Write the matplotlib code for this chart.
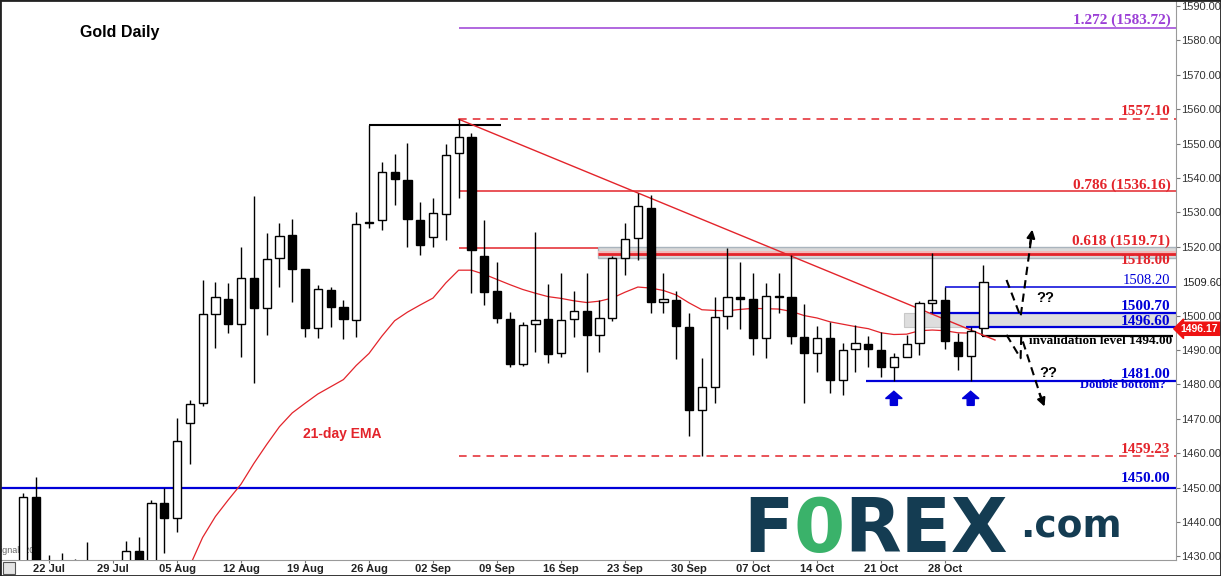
import matplotlib
matplotlib.use("Agg")
from matplotlib import pyplot as plt
from matplotlib.patches import Rectangle, FancyArrow
import matplotlib.transforms as mtransforms

# daily candles, 18 Jul .. 31 Oct (trading days only)
opens = [1426.0, 1447.4, 1425.5, 1424.0, 1417.0, 1426.0, 1414.0, 1418.5, 1426.5, 1431.5,
         1413.5, 1445.4, 1441.1, 1468.9, 1474.7, 1500.4, 1504.8, 1497.6, 1510.8, 1502.1,
         1516.8, 1523.3, 1513.4, 1496.3, 1507.4, 1502.4, 1498.7, 1527.3, 1527.7, 1541.8,
         1539.4, 1527.8, 1522.9, 1529.4, 1547.2, 1551.8, 1517.3, 1507.2, 1498.9, 1486.0,
         1497.6, 1498.9, 1489.0, 1498.9, 1501.4, 1494.3, 1499.2, 1516.6, 1522.7, 1531.4,
         1504.0, 1504.5, 1496.8, 1472.6, 1479.1, 1499.9, 1505.4, 1504.7, 1493.6, 1505.7,
         1505.3, 1493.9, 1489.0, 1493.4, 1481.3, 1490.4, 1491.7, 1490.0, 1485.1, 1488.1,
         1491.9, 1503.8, 1504.5, 1492.2, 1488.3, 1496.3]
highs = [1448.3, 1453.2, 1430.4, 1431.0, 1429.3, 1434.3, 1427.5, 1428.0, 1434.6, 1435.7,
         1446.4, 1449.8, 1470.1, 1475.5, 1510.3, 1509.9, 1509.6, 1520.0, 1534.9, 1524.1,
         1527.0, 1528.1, 1513.6, 1508.9, 1508.4, 1504.5, 1530.2, 1555.3, 1544.6, 1546.9,
         1550.3, 1533.1, 1534.1, 1549.8, 1557.1, 1553.0, 1527.8, 1515.7, 1501.1, 1498.2,
         1524.4, 1509.2, 1512.3, 1507.2, 1512.3, 1504.5, 1517.2, 1527.0, 1535.7, 1535.1,
         1512.5, 1507.2, 1500.7, 1487.6, 1505.3, 1519.7, 1515.7, 1512.5, 1509.6, 1512.3,
         1517.6, 1503.4, 1497.0, 1498.2, 1491.9, 1497.3, 1494.1, 1495.3, 1489.0, 1494.4,
         1504.3, 1518.1, 1508.4, 1495.0, 1496.8, 1514.7]
lows = [1422.0, 1421.0, 1418.5, 1412.0, 1413.5, 1411.0, 1410.0, 1414.5, 1422.5, 1411.5,
        1400.5, 1430.9, 1437.2, 1457.0, 1473.8, 1490.5, 1495.0, 1487.9, 1480.3, 1494.4,
        1508.2, 1504.0, 1493.7, 1493.4, 1496.8, 1493.1, 1493.8, 1525.5, 1525.0, 1532.2,
        1520.0, 1517.6, 1520.0, 1522.0, 1534.1, 1506.7, 1503.1, 1497.9, 1485.1, 1485.3,
        1489.5, 1486.1, 1488.0, 1493.9, 1483.7, 1489.5, 1498.3, 1511.8, 1516.2, 1500.7,
        1500.7, 1487.3, 1465.1, 1459.3, 1474.7, 1496.0, 1496.0, 1488.5, 1487.6, 1500.7,
        1491.7, 1474.5, 1483.5, 1477.6, 1477.0, 1483.7, 1485.1, 1482.2, 1481.0, 1488.0,
        1488.5, 1500.8, 1490.3, 1484.2, 1481.0, 1496.3]
closes = [1447.4, 1425.5, 1424.0, 1417.0, 1426.0, 1414.0, 1418.5, 1426.5, 1431.7, 1413.5,
          1445.4, 1441.1, 1463.4, 1474.3, 1500.4, 1505.5, 1497.6, 1510.8, 1502.1, 1516.5,
          1523.0, 1513.4, 1496.3, 1507.7, 1502.6, 1499.1, 1526.6, 1526.9, 1541.8, 1539.7,
          1528.1, 1520.5, 1529.7, 1546.7, 1551.8, 1519.1, 1507.0, 1499.4, 1486.0, 1497.2,
          1498.7, 1488.8, 1498.7, 1501.4, 1494.4, 1499.2, 1516.8, 1522.2, 1532.0, 1504.0,
          1504.8, 1497.0, 1472.6, 1479.1, 1499.7, 1505.5, 1504.9, 1493.6, 1505.7, 1505.3,
          1494.1, 1489.0, 1493.6, 1481.3, 1490.1, 1491.9, 1490.4, 1485.1, 1487.9, 1491.7,
          1503.8, 1504.5, 1492.6, 1488.3, 1495.6, 1509.9]

# 21-day EMA, from day index 12 onwards
ema_start = 12
ema = [1420.0, 1427.2, 1435.5, 1441.6, 1446.4, 1451.0, 1457.0, 1462.5, 1467.7, 1471.7,
       1474.5, 1477.2, 1479.3, 1481.4, 1485.5, 1489.0, 1494.0, 1498.5, 1501.0, 1503.1,
       1505.1, 1509.5, 1513.2, 1513.2, 1512.0, 1510.5, 1509.0, 1507.6, 1506.5, 1505.5,
       1505.0, 1504.3, 1503.8, 1504.2, 1505.1, 1506.8, 1508.3, 1508.0, 1507.3, 1506.0,
       1503.7, 1501.7, 1501.5, 1501.4, 1501.8, 1502.1, 1502.0, 1501.9, 1501.2, 1500.0,
       1499.3, 1498.2, 1497.5, 1496.8, 1496.2, 1495.0, 1494.5, 1494.6, 1495.6, 1495.8,
       1495.6, 1495.0, 1494.9]

date_idx = [2, 7, 12, 17, 22, 27, 32, 37, 42, 47, 52, 57, 62, 67, 72]
date_lbl = ["22 Jul", "29 Jul", "05 Aug", "12 Aug", "19 Aug", "26 Aug", "02 Sep", "09 Sep",
            "16 Sep", "23 Sep", "30 Sep", "07 Oct", "14 Oct", "21 Oct", "28 Oct"]
price_ticks = [1430, 1440, 1450, 1460, 1470, 1480, 1490, 1500, 1520,
               1530, 1540, 1550, 1560, 1570, 1580, 1590]
axis_marker = 1509.60

fib_1272 = 1583.72
high_lvl = 1557.10
fib_786 = 1536.16
fib_618 = 1519.71
res_1518 = 1518.00
lvl_1508 = 1508.20
lvl_1500 = 1500.70
lvl_1496 = 1496.60
invalid_lvl = 1494.00
lvl_1481 = 1481.00
low_lvl = 1459.23
lvl_1450 = 1450.00
last_price = 1496.17

RED = "#e3242b"
BLUE = "#0000d8"
PURPLE = "#9b3fd6"
W, H = 1221, 576

fig = plt.figure(figsize=(W / 100, H / 100), dpi=100)
ax = fig.add_axes([1 / W, 16 / H, 1175 / W, 559 / H])
ax.set_xlim(-1.75, 90.04)
ax.set_ylim(1428.95, 1591.45)
xr = ax.get_xlim()[1]

# zones
ax.add_patch(Rectangle((44.85, 1516.6), xr - 44.85, 1520.0 - 1516.6, fc="#d9d9d9", ec="#a9b4bd", lw=1, zorder=1))
ax.add_patch(Rectangle((44.85, 1517.3), xr - 44.85, 1.4, fc="#f3b9b9", ec="none", zorder=1.5))
ax.add_patch(Rectangle((68.8, lvl_1496), xr - 68.8, lvl_1500 - lvl_1496, fc="#dedede", ec="#c8c8c8", lw=0.8, zorder=1))

# horizontal levels
ax.hlines(fib_1272, 34, xr, color=PURPLE, lw=1.1, zorder=2)
ax.hlines(high_lvl, 34, xr, color=RED, lw=1.1, linestyles=(0, (5, 4)), zorder=2)
ax.hlines(fib_786, 34, xr, color=RED, lw=1.1, zorder=2)
ax.hlines(fib_618, 34, 44.85, color=RED, lw=1.1, zorder=2)
ax.hlines(res_1518, 44.85, xr, color=RED, lw=2, zorder=2)
ax.hlines(low_lvl, 34, xr, color=RED, lw=1.1, linestyles=(0, (5, 4)), zorder=2)
ax.hlines(lvl_1450, -2, xr, color=BLUE, lw=1.6, zorder=2)
ax.hlines(lvl_1508, 72, xr, color=BLUE, lw=1.1, zorder=2)
ax.hlines(lvl_1500, 70.8, xr, color=BLUE, lw=1.6, zorder=2)
ax.hlines(lvl_1496, 73.6, xr, color=BLUE, lw=1.6, zorder=2)
ax.hlines(lvl_1481, 65.8, xr, color=BLUE, lw=1.6, zorder=2)
ax.hlines(invalid_lvl, 74.9, 89.8, color="black", lw=1.6, zorder=2)
ax.vlines(74.9, invalid_lvl, lvl_1496, color="black", lw=1.2, zorder=2)
ax.hlines(1555.3, 27, 37.3, color="black", lw=1.5, zorder=2)

# trendline and EMA
ax.plot([34, 75.9], [high_lvl, 1492.9], color=RED, lw=1, zorder=2)
ax.plot(range(ema_start, ema_start + len(ema)), ema, color=RED, lw=0.9, zorder=2)

# candles
for i in range(len(opens)):
    o, h, l, c = opens[i], highs[i], lows[i], closes[i]
    ax.vlines(i, l, h, color="black", lw=1, zorder=4)
    body = max(abs(c - o), 0.4)
    ax.add_patch(Rectangle((i - 0.32, min(o, c)), 0.64, body,
                           fc="white" if c >= o else "black", ec="black", lw=1, zorder=5))

# scenario arrows
ax.plot([76.8, 77.9, 78.75], [1510.35, 1499.7, 1523.0], color="black", lw=1.5, ls=(0, (4, 2.5)), zorder=6)
ax.annotate("", xy=(78.85, 1525.8), xytext=(78.6, 1520.0),
            arrowprops=dict(arrowstyle="-|>", color="black", lw=1.5, mutation_scale=12), zorder=6)
ax.plot([76.8, 77.9, 77.95, 79.6], [1494.4, 1487.6, 1493.9, 1475.0], color="black", lw=1.5, ls=(0, (4, 2.5)), zorder=6)
ax.annotate("", xy=(79.85, 1472.8), xytext=(79.3, 1478.0),
            arrowprops=dict(arrowstyle="-|>", color="black", lw=1.5, mutation_scale=12), zorder=6)
ax.text(79.8, 1505.0, "??", ha="center", va="center", fontsize=10.5, fontweight="bold", family="Liberation Sans")
ax.text(80.05, 1483.4, "??", ha="center", va="center", fontsize=10.5, fontweight="bold", family="Liberation Sans")

# double-bottom markers
for xi in [68, 74]:
    ax.add_patch(FancyArrow(xi, 1473.9, 0, 4.1, width=0.55, head_width=1.3, head_length=2.1,
                            length_includes_head=True, fc=BLUE, ec=BLUE, zorder=6))

# level labels
serif = "Liberation Serif"
xl = 89.6
lbls = [
    ("1.272 (1583.72)", 1585.9, PURPLE, "bold", 11),
    ("1557.10", 1559.2, RED, "bold", 11),
    ("0.786 (1536.16)", 1538.0, RED, "bold", 11),
    ("0.618 (1519.71)", 1521.6, RED, "bold", 11),
    ("1518.00", 1515.9, RED, "bold", 11),
    ("1508.20", 1510.2, BLUE, "normal", 10.5),
    ("1500.70", 1502.6, BLUE, "bold", 11),
    ("1496.60", 1498.4, BLUE, "bold", 11),
    ("1481.00", 1483.0, BLUE, "bold", 11),
    ("1459.23", 1461.0, RED, "bold", 11),
    ("1450.00", 1452.6, BLUE, "bold", 11),
]
for s, y, col, wt, fs in lbls:
    ax.text(xl, y, s, ha="right", va="center", color=col, fontweight=wt, fontsize=fs, family=serif, zorder=7)
ax.text(89.75, 1492.7, "invalidation level 1494.00", ha="right", va="center", fontsize=9.5,
        fontweight="bold", family=serif, zorder=7)
ax.text(89.2, 1479.8, "Double bottom?", ha="right", va="center", color=BLUE, fontsize=9,
        fontweight="bold", family=serif, zorder=7)

ax.text(24.9, 1465.6, "21-day EMA", ha="center", va="center", color=RED, fontsize=10,
        fontweight="bold", family="Liberation Sans")
fig.text(80 / W, 1 - 33 / H, "Gold Daily", ha="left", va="center", fontsize=11.5,
         fontweight="bold", family="Liberation Sans")
ax.text(-0.006, 1431.8, "Signal  20", transform=mtransforms.blended_transform_factory(ax.transAxes, ax.transData),
        fontsize=6.5, color="#666666", va="center", ha="left", clip_on=True, family="Liberation Sans")

# axes styling
for sp in ["top", "left"]:
    ax.spines[sp].set_visible(False)
ax.spines["right"].set_color("#9a9a9a")
ax.spines["bottom"].set_color("#9a9a9a")
ax.yaxis.tick_right()
ax.set_yticks(price_ticks)
ax.set_yticklabels(["%.2f" % p for p in price_ticks])
ax.tick_params(axis="y", length=3, width=0.8, color="#777777", pad=1, labelsize=8, labelcolor="#333333")
ax.set_xticks(date_idx)
ax.set_xticklabels(date_lbl)
ax.tick_params(axis="x", length=2, width=0.8, color="#777777", pad=1, labelsize=8, labelcolor="#222222")
for t in ax.get_xticklabels() + ax.get_yticklabels():
    t.set_family("Liberation Sans")
for t in ax.get_xticklabels():
    t.set_fontweight("bold")

yt = mtransforms.blended_transform_factory(ax.transAxes, ax.transData)
ax.text(1.005, axis_marker, "%.2f" % axis_marker, transform=yt,
        fontsize=8, color="#222222", va="center", ha="left", family="Liberation Sans")
ax.text(1.004, last_price, "%.2f" % last_price, transform=yt,
        fontsize=7.5, color="white", fontweight="bold", va="center", ha="left", family="Liberation Sans",
        bbox=dict(boxstyle="larrow,pad=0.15", fc="#ee1111", ec="#ee1111"))

# FOREX.com logo
r = fig.canvas.get_renderer()
x = 743.0
for s, col in [("F", "#143c52"), ("0", "#3ab26a"), ("REX", "#143c52")]:
    t = fig.text(x / W, (H - 552) / H, s, color=col, fontsize=53, fontweight="bold",
                 family="DejaVu Sans", va="baseline", ha="left")
    x += t.get_window_extent(r).width
fig.text(1020 / W, (H - 537) / H, ".com", color="#143c52", fontsize=27, fontweight="bold",
         family="DejaVu Sans", va="baseline", ha="left")

# small icon and frame
fig.patches.append(Rectangle((3 / W, 2 / H), 12 / W, 12 / H, transform=fig.transFigure,
                             fc="#e4e4e4", ec="#555555", lw=0.8))
fig.patches.append(Rectangle((0, 0), 1, 1, transform=fig.transFigure, fill=False, ec="#222222", lw=2))

fig.savefig("out.png", dpi=100)
